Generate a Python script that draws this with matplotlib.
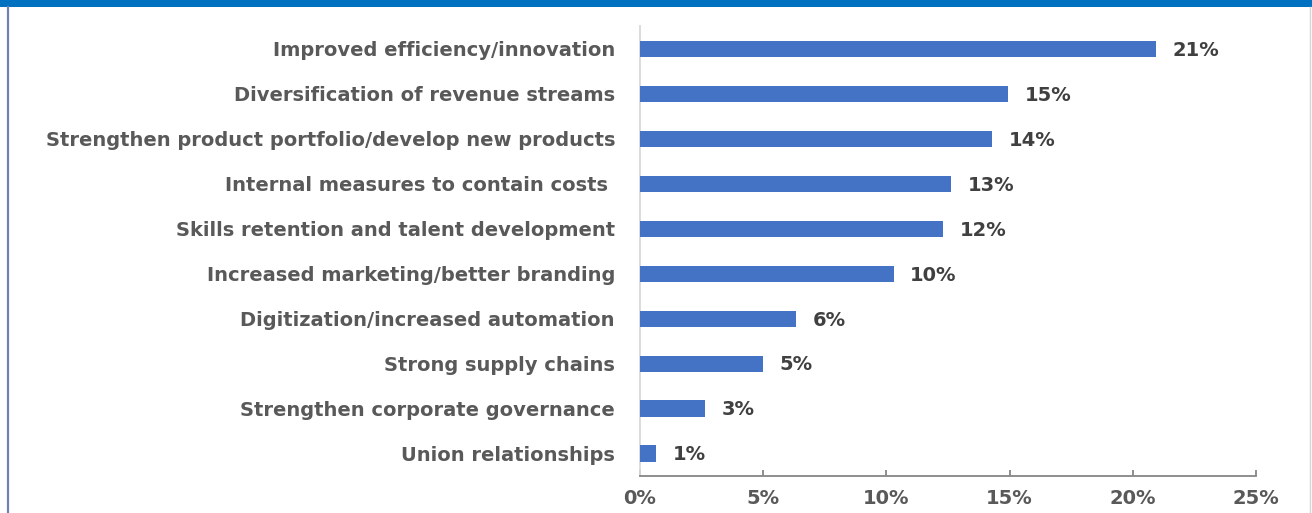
import matplotlib
matplotlib.use("Agg")
import matplotlib.pyplot as plt
from matplotlib.patches import Rectangle
from matplotlib.lines import Line2D

categories = [
    "Improved efficiency/innovation",
    "Diversification of revenue streams",
    "Strengthen product portfolio/develop new products",
    "Internal measures to contain costs ",
    "Skills retention and talent development",
    "Increased marketing/better branding",
    "Digitization/increased automation",
    "Strong supply chains",
    "Strengthen corporate governance",
    "Union relationships",
]
shares = [20.94, 14.95, 14.29, 12.62, 12.28, 10.29, 6.32, 4.98, 2.65, 0.65]
x_ticks = [0, 5, 10, 15, 20, 25]
x_tick_labels = ["0%", "5%", "10%", "15%", "20%", "25%"]

BAR = "#4472C4"
LABEL = "#595959"
VALUE = "#404040"
FS = 14.0

W, H = 1312, 513
fig = plt.figure(figsize=(W / 100, H / 100), dpi=100)
fig.patch.set_facecolor("white")

# frame decorations: blue band on top, thin borders on the sides
fig.add_artist(Rectangle((0, 1 - 7 / H), 1, 7 / H, transform=fig.transFigure,
                         facecolor="#0070C0", edgecolor="none"))
fig.add_artist(Line2D([8 / W, 8 / W], [0, 1 - 7 / H], transform=fig.transFigure,
                      color="#7080B0", lw=1.6))
fig.add_artist(Line2D([1309.5 / W, 1309.5 / W], [0, 1 - 7 / H], transform=fig.transFigure,
                      color="#D4D4D4", lw=1.0))

left, right = 640 / W, 1256 / W
bottom, top = (H - 476) / H, (H - 26.5) / H
ax = fig.add_axes([left, bottom, right - left, top - bottom])

y = list(range(len(categories)))[::-1]
ax.barh(y, shares, height=0.36, color=BAR, edgecolor="none", zorder=3)

for yi, v in zip(y, shares):
    ax.text(v + 0.68, yi - 0.03, f"{v:.0f}%", va="center", ha="left",
            fontsize=FS, fontweight="bold", color=VALUE, family="DejaVu Sans")

ax.set_xlim(0, 25)
ax.set_ylim(-0.5, len(categories) - 0.5)
ax.set_yticks(y)
ax.set_yticklabels(categories, fontsize=FS, fontweight="bold", color=LABEL,
                   family="DejaVu Sans")
ax.set_xticks(x_ticks)
ax.set_xticklabels(x_tick_labels, fontsize=FS, fontweight="bold", color=LABEL,
                   family="DejaVu Sans")

for s in ["top", "right"]:
    ax.spines[s].set_visible(False)
ax.spines["bottom"].set_color("#868686")
ax.spines["bottom"].set_linewidth(1.3)
ax.spines["left"].set_color("#D9D9D9")
ax.spines["left"].set_linewidth(1.3)

ax.tick_params(axis="y", length=0, pad=18)
ax.tick_params(axis="x", direction="in", length=4, width=1.3, color="#868686", pad=9.5)

fig.savefig("out.png", dpi=100, facecolor="white")
